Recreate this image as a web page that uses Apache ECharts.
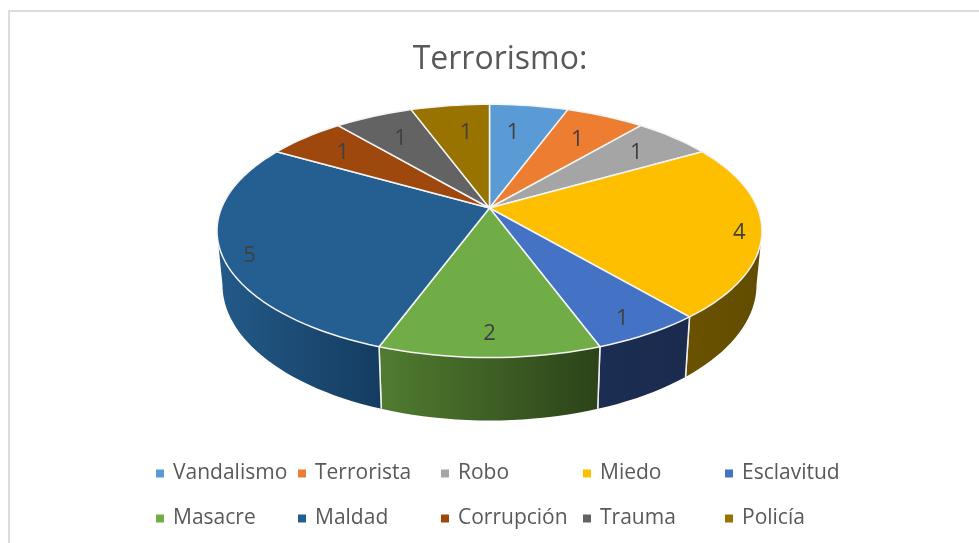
<!DOCTYPE html>
<html>
<head>
<meta charset="utf-8">
<style>html,body{margin:0;padding:0;background:#fff}#c{width:979px;height:543px}</style>
<script src="https://cdn.jsdelivr.net/npm/echarts@6/dist/echarts.min.js"></script>
</head>
<body>
<div id="c"></div>
<script>
const titleText = 'Terrorismo:';
const categories = ['Vandalismo','Terrorista','Robo','Miedo','Esclavitud','Masacre','Maldad','Corrupción','Trauma','Policía'];
const seriesValues = [1,1,1,4,1,2,5,1,1,1];
const topColors = ['#5b9bd5','#ed7d31','#a5a5a5','#fdbf00','#4472c4','#70ad47','#255e91','#9e480e','#636363','#997300'];
const wallColors = [
  ['#2f5e8a','#2f5e8a'],['#8f4a1a','#8f4a1a'],['#636363','#636363'],['#6a5200','#624c00'],
  ['#1b2d52','#1a2b4e'],['#507c30','#2c4319'],['#235a89','#153c60'],['#5f2a08','#5f2a08'],
  ['#3b3b3b','#3b3b3b'],['#5c4500','#5c4500']
];
const labelRadius = [0.71,0.73,0.78,0.92,0.88,0.86,0.91,0.78,0.74,0.71];
const labelTurn = [-2,0,0,1.6,1,0,-3,0,0,2];

const total = seriesValues.reduce((a,b)=>a+b,0);
const starts = [];
seriesValues.reduce((s,v,i)=>{starts[i]=s;return s+v;},0);

// Perspective view of the disc
const CX=489.5, CY=208, A=268, B=122.5, K=0.181;
const WALL_FROM=100.4, WALL_TO=259.6;
function project(deg,r){
  const t=deg*Math.PI/180, X=r*Math.sin(t), Y=-r*Math.cos(t), w=1-K*Y;
  return [CX+A*X/w, CY+B*Y/w];
}
function lower(p){
  return [CX+(p[0]-CX)*0.98, p[1]+54+0.073*(p[1]-235)];
}
function arc(a0,a1){
  const n=Math.max(2,Math.ceil(Math.abs(a1-a0)/2)), pts=[];
  for(let i=0;i<=n;i++) pts.push(project(a0+(a1-a0)*i/n,1));
  return pts;
}
function renderTop(index){
  return function(params,api){
    const v=api.value(0), s=api.value(1);
    const a0=s/total*360, a1=(s+v)/total*360, mid=(a0+a1)/2;
    const pts=[[CX,CY]].concat(arc(a0,a1));
    const lp=project(mid+labelTurn[index],labelRadius[index]);
    return {type:'group',children:[
      {type:'polygon',shape:{points:pts},
       style:{fill:topColors[index],stroke:'#f4f4f4',lineWidth:1.5,lineJoin:'round'}},
      {type:'text',x:lp[0],y:lp[1]+1,
       style:{text:String(v),fill:'#404040',font:'22px "Open Sans"',align:'center',verticalAlign:'middle'}}
    ]};
  };
}
function renderWall(params,api){
  const i=params.dataIndex, v=api.value(0), s=api.value(1);
  const a0=s/total*360, a1=(s+v)/total*360;
  const b0=Math.max(a0,WALL_FROM), b1=Math.min(a1,WALL_TO);
  if(b1<=b0) return {type:'group',children:[]};
  const up=arc(b0,b1), down=up.map(lower).reverse();
  const xs=up.concat(down).map(p=>p[0]);
  const x0=Math.min.apply(null,xs), x1=Math.max.apply(null,xs);
  // colours run from the left to the right of the visible strip
  const kids=[{type:'polygon',shape:{points:up.concat(down)},
    style:{fill:{type:'linear',x:x0,y:0,x2:x1,y2:0,global:true,
      colorStops:[{offset:0,color:wallColors[i][0]},{offset:1,color:wallColors[i][1]}]}}}];
  [a0,a1].forEach(a=>{
    if(a>WALL_FROM && a<WALL_TO){
      const p=project(a,1);
      kids.push({type:'line',shape:{x1:p[0],y1:p[1],x2:lower(p)[0],y2:lower(p)[1]},
        style:{stroke:'#f0f0f0',lineWidth:1.5}});
    }
  });
  return {type:'group',children:kids};
}

const topSeries = categories.map((name,i)=>({
  type:'custom',name,coordinateSystem:'none',z:3,silent:true,
  itemStyle:{color:topColors[i]},
  renderItem:renderTop(i),
  data:[[seriesValues[i],starts[i]]]
}));
const wallSeries = {
  type:'custom',name:'Lateral',coordinateSystem:'none',z:2,silent:true,
  renderItem:renderWall,
  data:seriesValues.map((v,i)=>[v,starts[i]])
};

const legendLeft=[156,298,441,583,725];
const legends=legendLeft.map((left,c)=>({
  orient:'vertical',left,top:460,padding:0,
  icon:'rect',itemWidth:8,itemHeight:8,itemGap:18,selectedMode:false,
  data:[categories[c],categories[c+5]],
  textStyle:{fontFamily:'"Open Sans"',fontSize:21,color:'#595959',padding:[0,0,0,4],lineHeight:27}
}));

const chart=echarts.init(document.getElementById('c'),null,{renderer:'canvas'});
chart.setOption({
  animation:false,
  backgroundColor:'#ffffff',
  title:{text:titleText,left:500,top:39,textAlign:'center',
    textStyle:{fontFamily:'"Open Sans"',fontSize:32,fontWeight:'normal',color:'#595959'},
    padding:[5,10,5,0]},
  legend:legends,
  graphic:[
    {type:'line',silent:true,shape:{x1:9,y1:11,x2:979,y2:11},style:{stroke:'#dcdcdc',lineWidth:2}},
    {type:'line',silent:true,shape:{x1:9,y1:10,x2:9,y2:543},style:{stroke:'#dcdcdc',lineWidth:2}}
  ],
  series:[wallSeries].concat(topSeries)
});
</script>
</body>
</html>
